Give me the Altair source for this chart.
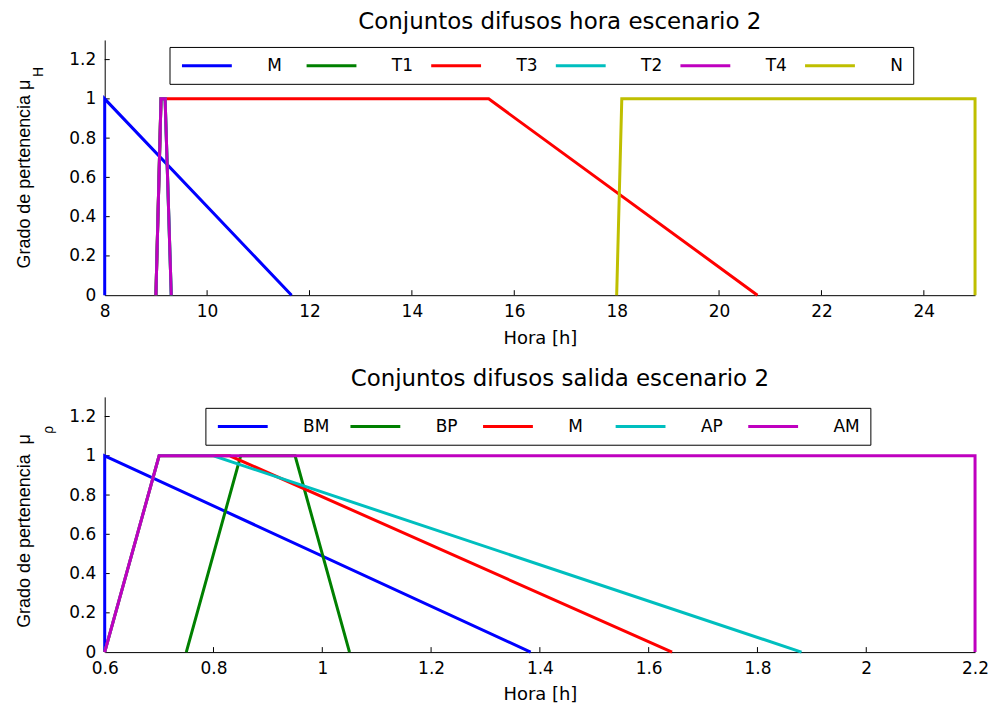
import altair as alt
import pandas as pd

# ---------------- data ----------------
top_names = ["M", "T1", "T3", "T2", "T4", "N"]
top_colors = ["#0000ff", "#008000", "#ff0000", "#00bfbf", "#bf00bf", "#bfbf00"]
top_M_x = [8, 8, 11.65]
top_M_y = [0, 1, 0]
top_T1_x = [9, 9.1, 9.18, 9.3]
top_T1_y = [0, 1, 1, 0]
top_T3_x = [9, 9.1, 15.5, 20.75]
top_T3_y = [0, 1, 1, 0]
top_T2_x = [9, 9.1, 9.18, 9.3]
top_T2_y = [0, 1, 1, 0]
top_T4_x = [9, 9.1, 9.18, 9.3]
top_T4_y = [0, 1, 1, 0]
top_N_x = [18, 18.1, 25, 25]
top_N_y = [0, 1, 1, 0]
top_xticks = [8, 10, 12, 14, 16, 18, 20, 22, 24]

bot_names = ["BM", "BP", "M", "AP", "AM"]
bot_colors = ["#0000ff", "#008000", "#ff0000", "#00bfbf", "#bf00bf"]
bot_BM_x = [0.6, 0.6, 1.383]
bot_BM_y = [0, 1, 0]
bot_BP_x = [0.75, 0.85, 0.95, 1.05]
bot_BP_y = [0, 1, 1, 0]
bot_M_x = [0.6, 0.7, 0.83, 1.643]
bot_M_y = [0, 1, 1, 0]
bot_AP_x = [0.6, 0.7, 0.80, 1.881]
bot_AP_y = [0, 1, 1, 0]
bot_AM_x = [0.6, 0.7, 2.2, 2.2]
bot_AM_y = [0, 1, 1, 0]
bot_xticks = [0.6, 0.8, 1.0, 1.2, 1.4, 1.6, 1.8, 2.0, 2.2]

yticks = [0, 0.2, 0.4, 0.6, 0.8, 1.0, 1.2]


def build_df(names, xs, ys):
    rows = []
    for name, xv, yv in zip(names, xs, ys):
        for i, (a, b) in enumerate(zip(xv, yv)):
            rows.append({"series": name, "x": a, "y": b, "idx": i})
    return pd.DataFrame(rows)


top_df = build_df(top_names,
                  [top_M_x, top_T1_x, top_T3_x, top_T2_x, top_T4_x, top_N_x],
                  [top_M_y, top_T1_y, top_T3_y, top_T2_y, top_T4_y, top_N_y])
bot_df = build_df(bot_names,
                  [bot_BM_x, bot_BP_x, bot_M_x, bot_AP_x, bot_AM_x],
                  [bot_BM_y, bot_BP_y, bot_M_y, bot_AP_y, bot_AM_y])

W, H = 873, 256
YMAX = 1.3
HFONT = "DejaVu Sans"
VFONT = "Liberation Sans"
# legend sample: a 50px horizontal stroke drawn by a custom symbol path
SYM_SIZE = 144                      # sqrt -> 12px symbol cell, scale 6
SYM_PATH = "M-4.1667,0H4.1667"      # +-25px once scaled


def panel(df, names, colors, xdomain, xticks, title, title_offset, sub, sub_x, sub_y,
          main_ytitle, leg_x, leg_y, col_pad, leg_pad):
    xscale = alt.Scale(domain=xdomain, nice=False, zero=False)
    yscale = alt.Scale(domain=[0, YMAX], nice=False)
    tick_len_x = (xdomain[1] - xdomain[0]) * 5 / W
    tick_len_y = YMAX * 5 / H

    xt = pd.DataFrame({"x": [v for v in xticks if v != xdomain[0]]})
    xt["y0"] = 0.0
    xt["y1"] = tick_len_y
    yt = pd.DataFrame({"y": [v for v in yticks if v != 0]})
    yt["x0"] = float(xdomain[0])
    yt["x1"] = xdomain[0] + tick_len_x

    xaxis = alt.Axis(values=xticks, format="~g", tickSize=0, labelPadding=8,
                     labelFont=HFONT, labelFontSize=17, labelColor="black",
                     domainColor="black", grid=False, title="Hora [h]",
                     titleFont=HFONT, titleFontSize=18, titleFontWeight="normal",
                     titleColor="black", titlePadding=10, labelFlush=False)
    yaxis = alt.Axis(values=yticks, format="~g", tickSize=0, labelPadding=9,
                     labelFont=HFONT, labelFontSize=17, labelColor="black",
                     domainColor="black", grid=False, title=main_ytitle,
                     titleFont=VFONT, titleFontSize=18, titleFontWeight="normal",
                     titleColor="black", titleX=-80, titleY=134, titleAngle=270,
                     titleAlign="center", titleBaseline="middle")

    ticks_x = alt.Chart(xt).mark_rule(color="black", strokeWidth=1).encode(
        x=alt.X("x:Q", scale=xscale, axis=xaxis),
        y=alt.Y("y0:Q", scale=yscale, axis=yaxis),
        y2="y1:Q")
    ticks_y = alt.Chart(yt).mark_rule(color="black", strokeWidth=1).encode(
        x=alt.X("x0:Q", scale=xscale), x2="x1:Q",
        y=alt.Y("y:Q", scale=yscale))

    legend = alt.Legend(orient="none", legendX=leg_x, legendY=leg_y,
                        direction="horizontal", columns=len(names), title=None,
                        symbolType=SYM_PATH, symbolSize=SYM_SIZE, symbolStrokeWidth=3,
                        symbolOffset=19,
                        labelFont=HFONT, labelFontSize=17, labelColor="black",
                        labelOffset=52, columnPadding=col_pad, gridAlign="all",
                        strokeColor="black", fillColor="white", padding=leg_pad)
    lines = alt.Chart(df).mark_line(strokeWidth=3).encode(
        x=alt.X("x:Q", scale=xscale),
        y=alt.Y("y:Q", scale=yscale),
        color=alt.Color("series:N", scale=alt.Scale(domain=names, range=colors),
                        legend=legend, sort=names),
        order=alt.Order("idx:Q"))

    subtxt = alt.Chart(pd.DataFrame({"t": [sub]})).mark_text(
        angle=270, font=VFONT, fontSize=14, color="black",
        align="center", baseline="middle").encode(
        text="t:N", x=alt.value(sub_x), y=alt.value(sub_y))

    return alt.layer(ticks_x, ticks_y, lines, subtxt).properties(
        width=W, height=H,
        title=alt.TitleParams(title, font=HFONT, fontSize=23, fontWeight="normal",
                              color="black", offset=title_offset, dx=20,
                              anchor="middle"))


top = panel(top_df, top_names, top_colors, [8, 25], top_xticks,
            "Conjuntos difusos hora escenario 2", 6, "H", -66, 32,
            "Grado de pertenencia μ", 65, 7, 11, 10)
bot = panel(bot_df, bot_names, bot_colors, [0.6, 2.2], bot_xticks,
            "Conjuntos difusos salida escenario 2", 6, "ρ", -56, 33,
            "Grado de pertenencia \u00a0μ", 101, 11, 14, 10)

chart = alt.vconcat(top, bot, spacing=21).resolve_scale(
    color="independent", x="independent", y="independent"
).configure_view(stroke=None).properties(
    padding={"left": 8, "top": 2, "right": 0, "bottom": 0}
)

chart.save("out.html", embed_options={"renderer": "svg", "actions": False})
